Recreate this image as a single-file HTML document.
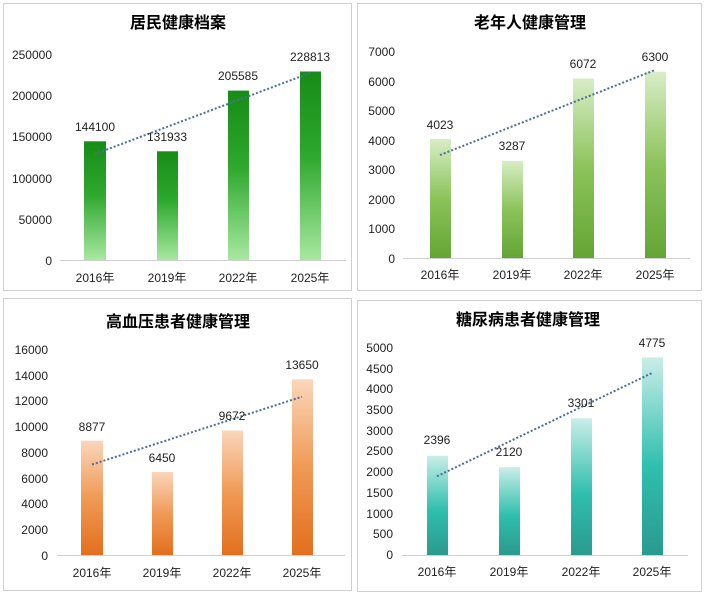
<!DOCTYPE html>
<html><head><meta charset="utf-8"><style>
body{margin:0;background:#fff}
svg text{font-family:"Liberation Sans","Noto Sans CJK SC",sans-serif;font-size:12px;fill:#222}
.t{font-size:16px;font-weight:bold;fill:#000}
.y{text-anchor:end}
.c{text-anchor:middle}
</style></head><body>
<svg width="705" height="595" xmlns="http://www.w3.org/2000/svg">
<defs>
<linearGradient id="g1" x1="0" y1="0" x2="0" y2="1"><stop offset="0" stop-color="#178c17"/><stop offset="0.45" stop-color="#2ea82e"/><stop offset="1" stop-color="#a8e8a0"/></linearGradient>
<linearGradient id="g2" x1="0" y1="0" x2="0" y2="1"><stop offset="0" stop-color="#d8edc6"/><stop offset="0.5" stop-color="#8cc35a"/><stop offset="1" stop-color="#64a535"/></linearGradient>
<linearGradient id="g3" x1="0" y1="0" x2="0" y2="1"><stop offset="0" stop-color="#fad6bb"/><stop offset="0.5" stop-color="#f09a56"/><stop offset="1" stop-color="#e36f1e"/></linearGradient>
<linearGradient id="g4" x1="0" y1="0" x2="0" y2="1"><stop offset="0" stop-color="#c9eee8"/><stop offset="0.55" stop-color="#2fbfae"/><stop offset="1" stop-color="#2a9a8e"/></linearGradient>
</defs>
<g fill="none" stroke="#d0d0d0">
<rect x="3.5" y="3.5" width="348" height="287"/>
<rect x="357.5" y="3.5" width="344" height="287"/>
<rect x="3.5" y="298.5" width="348" height="292"/>
<rect x="357.5" y="300.5" width="344" height="291"/>
</g>
<!-- Panel 1 -->
<text class="t c" x="178" y="28">居民健康档案</text>
<g class="y">
<text class="y" x="52" y="59">250000</text><text class="y" x="52" y="100">200000</text><text class="y" x="52" y="141">150000</text><text class="y" x="52" y="183">100000</text><text class="y" x="52" y="224">50000</text><text class="y" x="52" y="265">0</text>
</g>
<line x1="60" y1="260.5" x2="346" y2="260.5" stroke="#d0d0d0"/>
<rect x="84" y="141.3" width="22" height="118.7" fill="url(#g1)"/>
<rect x="157" y="151.3" width="21" height="108.7" fill="url(#g1)"/>
<rect x="228" y="90.6" width="21" height="169.4" fill="url(#g1)"/>
<rect x="300" y="71.5" width="21" height="188.5" fill="url(#g1)"/>
<line x1="95" y1="154" x2="310" y2="73" stroke="#4a6e9a" stroke-width="2" stroke-dasharray="2,2"/>
<text class="c" x="95" y="131">144100</text><text class="c" x="167" y="141">131933</text><text class="c" x="238" y="80">205585</text><text class="c" x="310" y="61">228813</text>
<text class="c" x="95" y="282">2016年</text><text class="c" x="167" y="282">2019年</text><text class="c" x="238" y="282">2022年</text><text class="c" x="310" y="282">2025年</text>
<!-- Panel 2 -->
<text class="t c" x="530" y="28">老年人健康管理</text>
<text class="y" x="395" y="56">7000</text><text class="y" x="395" y="86">6000</text><text class="y" x="395" y="115">5000</text><text class="y" x="395" y="145">4000</text><text class="y" x="395" y="174">3000</text><text class="y" x="395" y="204">2000</text><text class="y" x="395" y="233">1000</text><text class="y" x="395" y="263">0</text>
<line x1="403" y1="258.5" x2="690" y2="258.5" stroke="#d0d0d0"/>
<rect x="430" y="139" width="21" height="119" fill="url(#g2)"/>
<rect x="502" y="160.8" width="21" height="97.2" fill="url(#g2)"/>
<rect x="573" y="78.5" width="21" height="179.5" fill="url(#g2)"/>
<rect x="645" y="71.7" width="21" height="186.3" fill="url(#g2)"/>
<line x1="440" y1="155" x2="655" y2="70" stroke="#4a6e9a" stroke-width="2" stroke-dasharray="2,2"/>
<text class="c" x="440" y="129">4023</text><text class="c" x="512" y="150">3287</text><text class="c" x="583" y="68">6072</text><text class="c" x="655" y="61">6300</text>
<text class="c" x="440" y="279">2016年</text><text class="c" x="512" y="279">2019年</text><text class="c" x="583" y="279">2022年</text><text class="c" x="655" y="279">2025年</text>
<!-- Panel 3 -->
<text class="t c" x="178" y="327">高血压患者健康管理</text>
<text class="y" x="48" y="354">16000</text><text class="y" x="48" y="380">14000</text><text class="y" x="48" y="405">12000</text><text class="y" x="48" y="431">10000</text><text class="y" x="48" y="457">8000</text><text class="y" x="48" y="483">6000</text><text class="y" x="48" y="508">4000</text><text class="y" x="48" y="534">2000</text><text class="y" x="48" y="560">0</text>
<line x1="57" y1="555.5" x2="345" y2="555.5" stroke="#d0d0d0"/>
<rect x="81" y="440.7" width="22" height="114.3" fill="url(#g3)"/>
<rect x="152" y="472" width="21" height="83" fill="url(#g3)"/>
<rect x="222" y="430.5" width="21" height="124.5" fill="url(#g3)"/>
<rect x="292" y="379.3" width="21" height="175.7" fill="url(#g3)"/>
<line x1="92" y1="464.5" x2="302" y2="396.7" stroke="#4a6e9a" stroke-width="2" stroke-dasharray="2,2"/>
<text class="c" x="92" y="431">8877</text><text class="c" x="162" y="462">6450</text><text class="c" x="232" y="420">9672</text><text class="c" x="302" y="369">13650</text>
<text class="c" x="92" y="577">2016年</text><text class="c" x="162" y="577">2019年</text><text class="c" x="232" y="577">2022年</text><text class="c" x="302" y="577">2025年</text>
<!-- Panel 4 -->
<text class="t c" x="528" y="325">糖尿病患者健康管理</text>
<text class="y" x="393" y="352">5000</text><text class="y" x="393" y="373">4500</text><text class="y" x="393" y="393">4000</text><text class="y" x="393" y="414">3500</text><text class="y" x="393" y="435">3000</text><text class="y" x="393" y="455">2500</text><text class="y" x="393" y="476">2000</text><text class="y" x="393" y="497">1500</text><text class="y" x="393" y="518">1000</text><text class="y" x="393" y="538">500</text><text class="y" x="393" y="559">0</text>
<line x1="402" y1="555.5" x2="688" y2="555.5" stroke="#d0d0d0"/>
<rect x="427" y="455.8" width="21" height="99.2" fill="url(#g4)"/>
<rect x="499" y="467.2" width="21" height="87.8" fill="url(#g4)"/>
<rect x="571" y="418.3" width="21" height="136.7" fill="url(#g4)"/>
<rect x="642" y="357.3" width="21" height="197.7" fill="url(#g4)"/>
<line x1="437" y1="476.3" x2="652" y2="373" stroke="#4a6e9a" stroke-width="2" stroke-dasharray="2,2"/>
<text class="c" x="437" y="444">2396</text><text class="c" x="509" y="456">2120</text><text class="c" x="581" y="407">3301</text><text class="c" x="652" y="347">4775</text>
<text class="c" x="437" y="576">2016年</text><text class="c" x="509" y="576">2019年</text><text class="c" x="581" y="576">2022年</text><text class="c" x="652" y="576">2025年</text>
</svg>
</body></html>
